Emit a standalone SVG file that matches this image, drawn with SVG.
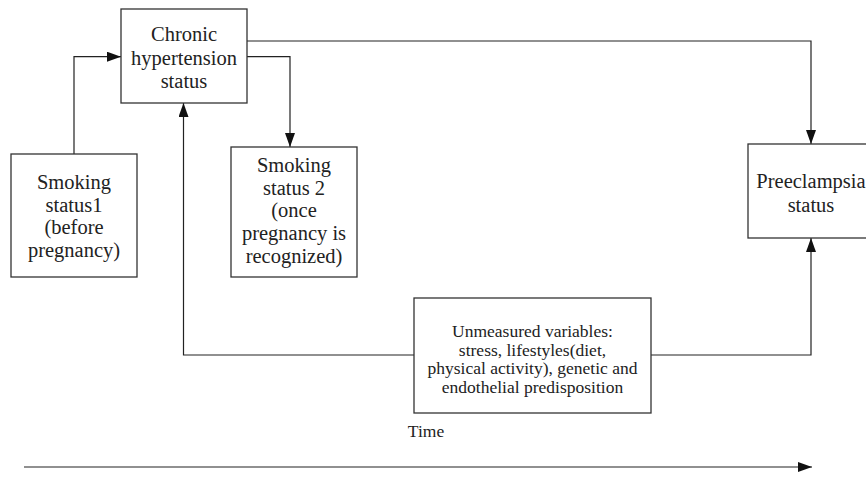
<svg xmlns="http://www.w3.org/2000/svg" width="866" height="479" viewBox="0 0 866 479">
<style>
.box{fill:#fff;stroke:#333;stroke-width:1.3}
.t{font-family:"Liberation Serif","Times New Roman",serif;font-size:20.5px;fill:#222;text-anchor:middle}
.s{font-size:17.5px}
.c{fill:none;stroke:#222;stroke-width:1.2}
</style>
<defs>
<marker id="ah" viewBox="0 0 14 10" refX="14" refY="5" markerWidth="14" markerHeight="10" markerUnits="userSpaceOnUse" orient="auto">
<path d="M0,0 L14,5 L0,10 Z" fill="#111"/>
</marker>
</defs>
<rect width="866" height="479" fill="#fff"/>
<g id="connectors">
<path class="c" d="M74,154 V56.7 H121" marker-end="url(#ah)"/>
<path class="c" d="M247,56.7 H290 V147" marker-end="url(#ah)"/>
<path class="c" d="M247,41 H811 V144" marker-end="url(#ah)"/>
<path class="c" d="M414,355 H183.5 V103" marker-end="url(#ah)"/>
<path class="c" d="M651,355 H811 V238" marker-end="url(#ah)"/>
</g>
<g id="chronic">
<rect class="box" x="121" y="9" width="126" height="94"/>
<text class="t" x="184" y="41">Chronic</text>
<text class="t" x="184" y="64.5">hypertension</text>
<text class="t" x="184" y="88">status</text>
</g>
<g id="smoking1">
<rect class="box" x="11" y="154" width="126" height="123"/>
<text class="t" x="74" y="189">Smoking</text>
<text class="t" x="74" y="211.5">status1</text>
<text class="t" x="74" y="234">(before</text>
<text class="t" x="74" y="256.5">pregnancy)</text>
</g>
<g id="smoking2">
<rect class="box" x="231" y="147" width="126" height="130"/>
<text class="t" x="294" y="172">Smoking</text>
<text class="t" x="294" y="194.7">status 2</text>
<text class="t" x="294" y="217.3">(once</text>
<text class="t" x="294" y="240">pregnancy is</text>
<text class="t" x="294" y="262.7">recognized)</text>
</g>
<g id="preeclampsia">
<rect class="box" x="748" y="144" width="126" height="94"/>
<text class="t" x="811" y="188">Preeclampsia</text>
<text class="t" x="811" y="211.7">status</text>
</g>
<g id="unmeasured">
<rect class="box" x="414" y="298" width="237" height="115"/>
<text class="t s" x="532.5" y="337">Unmeasured variables:</text>
<text class="t s" x="532.5" y="355.5">stress, lifestyles(diet,</text>
<text class="t s" x="532.5" y="374">physical activity), genetic and</text>
<text class="t s" x="532.5" y="392.5">endothelial predisposition</text>
</g>
<g id="time">
<text class="t s" x="426" y="437">Time</text>
<path class="c" d="M24,467 H812" marker-end="url(#ah)"/>
</g>
</svg>
